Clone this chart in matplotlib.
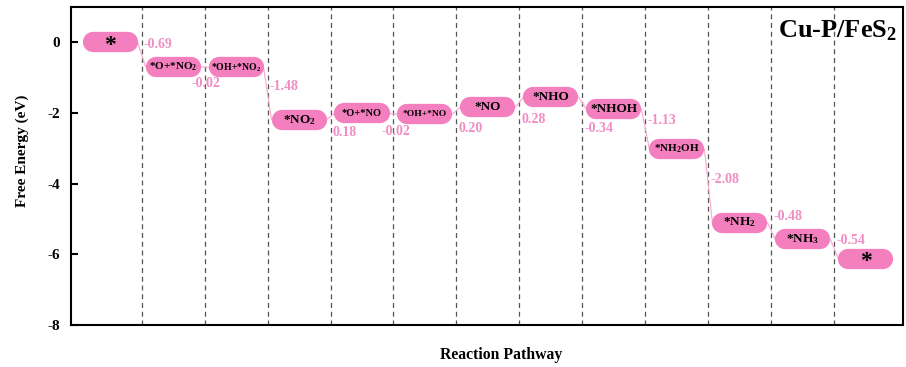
import matplotlib
matplotlib.use("Agg")
import matplotlib.pyplot as plt

plt.rcParams['font.family'] = ['Liberation Serif', 'DejaVu Serif']
plt.rcParams['font.weight'] = 'bold'
plt.rcParams['mathtext.fontset'] = 'custom'
plt.rcParams['mathtext.rm'] = 'Liberation Serif:bold'
plt.rcParams['mathtext.bf'] = 'Liberation Serif:bold'
plt.rcParams['mathtext.it'] = 'Liberation Serif:bold'

# ---- data ----
states = ['*', '*O+*NO$_2$', '*OH+*NO$_2$', '*NO$_2$', '*O+*NO', '*OH+*NO',
          '*NO', '*NHO', '*NHOH', '*NH$_2$OH', '*NH$_2$', '*NH$_3$', '*']
energies = [0.0, -0.69, -0.71, -2.19, -2.01, -2.03, -1.83, -1.55, -1.89,
            -3.02, -5.10, -5.58, -6.12]
delta_g = ['-0.69', '-0.02', '-1.48', '0.18', '-0.02', '0.20', '0.28',
           '-0.34', '-1.13', '-2.08', '-0.48', '-0.54']
yticks = [0, -2, -4, -6, -8]
title = 'Cu-P/FeS$_2$'

# ---- layout / style ----
box_fs = [17, 8, 7, 9.5, 7.5, 6.8, 9.5, 9.5, 9.5, 8, 9.5, 9.5, 17]
label_y = [-0.06, -1.16, -1.26, -2.54, -2.53, -2.44, -2.18, -2.43, -2.20,
           -3.87, -4.92, -5.62]
label_dx = [0.03, -0.2, 0.03, 0.03, -0.19, 0.03, 0.03, 0.03, 0.03, 0.03, 0.03, 0.03]
box_color = '#F47FBF'
label_color = '#F08DC4'
line_color = '#F7A8D0'

fig = plt.figure(figsize=(9.06, 3.67), dpi=100)
ax = fig.add_axes([0.0784, 0.1144, 0.9183, 0.8666])

half = 0.437   # half width of box in data units
cap = 0.159    # cap radius in data units
box_lw = 14.6

n = len(states)
for i in range(n):
    e = energies[i]
    ax.plot([i - half + cap, i + half - cap], [e, e], color=box_color,
            lw=box_lw, solid_capstyle='round', zorder=3)
    dy = -0.08 if states[i] == '*' else 0.0
    ax.text(i, e + dy, states[i], ha='center', va='center',
            fontsize=box_fs[i], fontweight='bold', color='black', zorder=4)

for k in range(n - 1):
    ax.plot([k + half, k + 1 - half], [energies[k], energies[k + 1]],
            color=line_color, lw=0.8, zorder=2)
    ax.axvline(k + 0.5, color='#555555', lw=0.9, ls=(0, (4, 3)), zorder=1)
    ax.text(k + 0.5 + label_dx[k], label_y[k], delta_g[k], ha='left',
            va='center', fontsize=10, fontweight='bold', color=label_color,
            zorder=4)

ax.set_xlim(-0.62, 12.59)
ax.set_ylim(-8, 1)
ax.set_yticks(yticks)
ax.set_yticklabels([str(t) for t in yticks], fontsize=11, fontweight='bold')
ax.set_xticks([])
ax.tick_params(axis='y', direction='in', length=5, width=1.5, pad=8)
for s in ax.spines.values():
    s.set_linewidth(1.5)
fig.text(22 / 906, 1 - 151 / 367, 'Free Energy (eV)', rotation=90,
         ha='center', va='center', fontsize=11, fontweight='bold')
fig.text(501 / 906, 1 - 355 / 367, 'Reaction Pathway', ha='center',
         va='center', fontsize=11.3, fontweight='bold')
ax.text(0.993, 0.965, title, transform=ax.transAxes, ha='right', va='top',
        fontsize=19, fontweight='bold', color='black')

fig.savefig('out.png', dpi=100)
